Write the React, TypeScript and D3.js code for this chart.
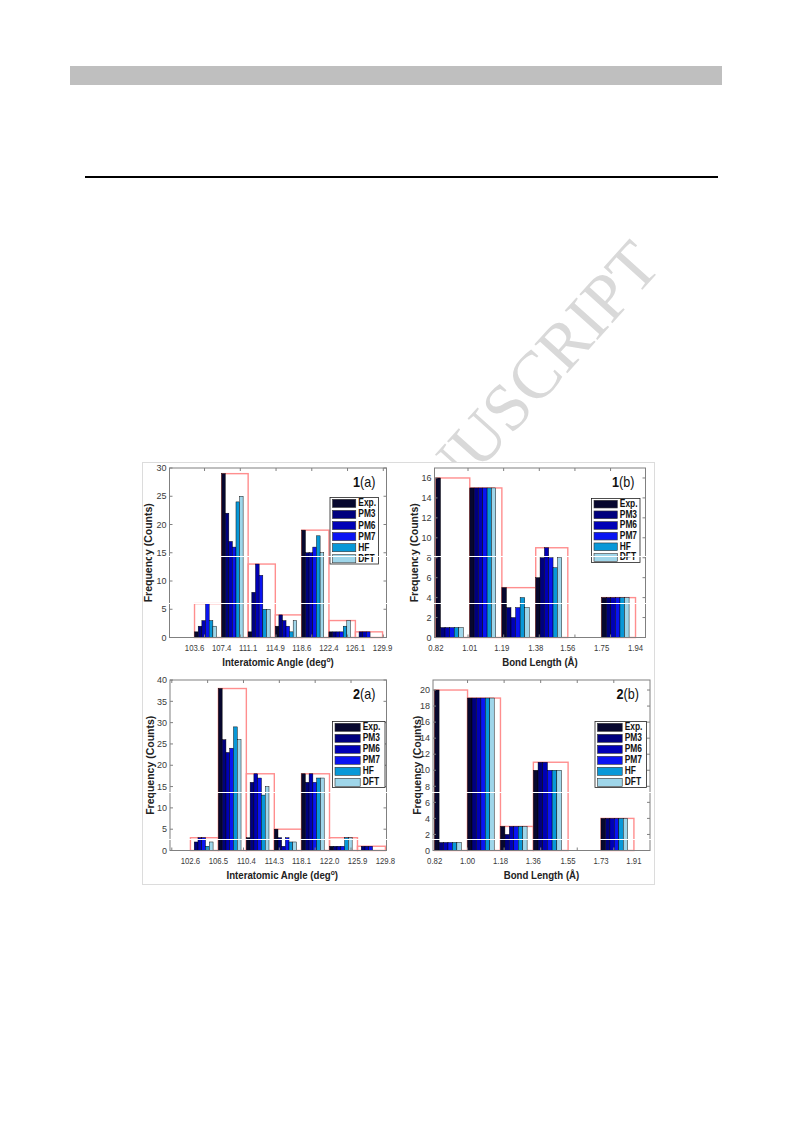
import React from 'react';
import * as d3 from 'd3';

// ---------------- data ----------------
const methods = ['Exp.', 'PM3', 'PM6', 'PM7', 'HF', 'DFT'];
const methodColors = ['#07072e', '#00007e', '#0000b6', '#0a14f2', '#0898d8', '#9fd6ea'];

// bin edges (tick labels) and counts per bin: [Exp, PM3, PM6, PM7, HF, DFT]
const edges1a = [103.6, 107.4, 111.1, 114.9, 118.6, 122.4, 126.1, 129.9];
const counts1a = [
  [1, 2, 3, 6, 3, 2],
  [29, 22, 17, 16, 24, 25],
  [1, 8, 13, 11, 5, 5],
  [2, 4, 3, 2, 1, 3],
  [19, 15, 15, 16, 18, 15],
  [1, 1, 1, 1, 2, 3],
  [0, 1, 1, 1, 0, 0],
];

const edges1b = [0.82, 1.01, 1.19, 1.38, 1.56, 1.75, 1.94];
const counts1b = [
  [16, 1, 1, 1, 1, 1],
  [15, 15, 15, 15, 15, 15],
  [5, 3, 2, 3, 4, 3],
  [6, 8, 9, 8, 7, 8],
  [0, 0, 0, 0, 0, 0],
  [4, 4, 4, 4, 4, 4],
];

const edges2a = [102.6, 106.5, 110.4, 114.3, 118.1, 122.0, 125.9, 129.8];
const counts2a = [
  [0, 2, 3, 3, 1, 2],
  [38, 26, 23, 24, 29, 26],
  [3, 16, 18, 17, 13, 15],
  [5, 3, 1, 3, 2, 2],
  [18, 16, 18, 16, 17, 17],
  [1, 1, 1, 1, 3, 3],
  [0, 1, 1, 1, 0, 0],
];

const edges2b = [0.82, 1.0, 1.18, 1.36, 1.55, 1.73, 1.91];
const counts2b = [
  [20, 1, 1, 1, 1, 1],
  [19, 19, 19, 19, 19, 19],
  [3, 2, 3, 3, 3, 3],
  [10, 11, 11, 10, 10, 10],
  [0, 0, 0, 0, 0, 0],
  [4, 4, 4, 4, 4, 4],
];

const angleLabel = 'Interatomic Angle (deg';
const bondLabel = 'Bond Length (Å)';
const yLabel = 'Frequency (Counts)';
const watermark = 'ACCEPTED MANUSCRIPT';

// ---------------- layout ----------------
const FONT = "'Liberation Sans', Arial, Helvetica, sans-serif";

type PanelSpec = {
  num: string;
  letter: string;
  edges: number[];
  counts: number[][];
  labelFormat: string;
  xDomain: [number, number];
  autoStep: number;
  yMax: number;
  yStep: number;
  x0: number; x1: number; y0: number; y1: number;
  xLabelKind: 'angle' | 'bond';
  xLabelDx: number;
  yLabelX: number;
  legend: { x: number; y: number; w: number; h: number };
};

const panels: PanelSpec[] = [
  {
    num: '1', letter: '(a)', edges: edges1a, counts: counts1a, labelFormat: '.1f',
    xDomain: [100.1, 130.45], autoStep: 5, yMax: 30, yStep: 5,
    x0: 169.5, x1: 386.5, y0: 468, y1: 637.5, xLabelKind: 'angle', xLabelDx: 0, yLabelX: 148,
    legend: { x: 330, y: 497.5, w: 48.5, h: 66.5 },
  },
  {
    num: '1', letter: '(b)', edges: edges1b, counts: counts1b, labelFormat: '.2f',
    xDomain: [0.812, 1.996], autoStep: 0.2, yMax: 17, yStep: 2,
    x0: 434.5, x1: 645.5, y0: 468, y1: 637.5, xLabelKind: 'bond', xLabelDx: 0, yLabelX: 414,
    legend: { x: 591.5, y: 498.5, w: 48.5, h: 64 },
  },
  {
    num: '2', letter: '(a)', edges: edges2a, counts: counts2a, labelFormat: '.1f',
    xDomain: [99.75, 129.95], autoStep: 5, yMax: 40, yStep: 5,
    x0: 170, x1: 386.5, y0: 680, y1: 850.5, xLabelKind: 'angle', xLabelDx: 4, yLabelX: 150,
    legend: { x: 332.5, y: 721.5, w: 52.5, h: 66 },
  },
  {
    num: '2', letter: '(b)', edges: edges2b, counts: counts2b, labelFormat: '.2f',
    xDomain: [0.811, 1.998], autoStep: 0.2, yMax: 21.25, yStep: 2,
    x0: 433, x1: 650, y0: 680, y1: 850.5, xLabelKind: 'bond', xLabelDx: 0, yLabelX: 417,
    legend: { x: 595, y: 721.5, w: 51.5, h: 66 },
  },
];

const artifactLines = [556.5, 603.5, 792.5, 839.5];

function SqText({ x, y, sx, children, anchor = 'middle', ...rest }: any) {
  return (
    <text transform={`translate(${x},${y}) scale(${sx},1)`} textAnchor={anchor} fontFamily={FONT} {...rest}>
      {children}
    </text>
  );
}

function Panel({ p }: { p: PanelSpec }) {
  const x = d3.scaleLinear().domain(p.xDomain).range([p.x0, p.x1]);
  const y = d3.scaleLinear().domain([0, p.yMax]).range([p.y1, p.y0]);
  const fmt = d3.format(p.labelFormat);
  const yTicks = d3.range(0, p.yMax + 1e-9, p.yStep);
  const autoTicks = d3
    .range(Math.ceil(p.xDomain[0] / p.autoStep), Math.floor(p.xDomain[1] / p.autoStep) + 1)
    .map((k) => k * p.autoStep)
    .filter((v) => x(v) > p.x0 + 1 && x(v) < p.x1 - 1);
  const groupFrac = 0.81;
  const axisColor = '#808080';
  const tickLen = 3;

  return (
    <g>
      {/* envelope (max of all methods per bin) */}
      {p.counts.map((row, i) => {
        const m = d3.max(row) as number;
        if (!m) return null;
        const l = x(p.edges[i]);
        const r = x(p.edges[i + 1]);
        return (
          <rect key={`env${i}`} x={l} y={y(m)} width={r - l} height={y(0) - y(m)} fill="none" stroke="#ff8e8e" strokeWidth={1.4} />
        );
      })}
      {/* bars */}
      {p.counts.map((row, i) => {
        const l = x(p.edges[i]);
        const r = x(p.edges[i + 1]);
        const bw = ((r - l) * groupFrac) / methods.length;
        return row.map((v, j) =>
          v > 0 ? (
            <rect key={`b${i}-${j}`} x={l + j * bw} y={y(v)} width={bw} height={y(0) - y(v)} fill={methodColors[j]} stroke="#000" strokeWidth={0.45} />
          ) : null
        );
      })}
      {/* axes box */}
      <rect x={p.x0} y={p.y0} width={p.x1 - p.x0} height={p.y1 - p.y0} fill="none" stroke={axisColor} strokeWidth={1} />
      {yTicks.map((t) => (
        <g key={`yt${t}`}>
          <line x1={p.x0} x2={p.x0 + tickLen} y1={y(t)} y2={y(t)} stroke={axisColor} />
          <line x1={p.x1} x2={p.x1 - tickLen} y1={y(t)} y2={y(t)} stroke={axisColor} />
          <text x={p.x0 - 3} y={y(t) + 3.2} textAnchor="end" fontFamily={FONT} fontSize={9} fill="#3a3a3a">
            {d3.format('d')(t)}
          </text>
        </g>
      ))}
      {autoTicks.map((t) => (
        <g key={`xt${t}`}>
          <line x1={x(t)} x2={x(t)} y1={p.y0} y2={p.y0 + tickLen} stroke={axisColor} />
          <line x1={x(t)} x2={x(t)} y1={p.y1} y2={p.y1 - tickLen} stroke={axisColor} />
        </g>
      ))}
      {p.edges.map((e) => (
        <SqText key={`xl${e}`} x={x(e)} y={p.y1 + 13} sx={0.82} fontSize={9.5} fill="#3a3a3a">
          {fmt(e)}
        </SqText>
      ))}
      {/* legend */}
      <rect x={p.legend.x} y={p.legend.y} width={p.legend.w} height={p.legend.h} fill="#fff" stroke="#222" strokeWidth={0.8} />
      {methods.map((m, j) => {
        const rh = p.legend.h / methods.length;
        const sy = p.legend.y + j * rh;
        const sw = p.legend.w * 0.48;
        return (
          <g key={`lg${m}`}>
            <rect x={p.legend.x + 2.5} y={sy + 1.8} width={sw} height={rh - 3} fill={methodColors[j]} stroke="#333" strokeWidth={0.6} />
            <SqText x={p.legend.x + sw + 5} y={sy + rh - 2.2} sx={0.8} anchor="start" fontSize={10.5} fontWeight="bold" fill="#111">
              {m}
            </SqText>
          </g>
        );
      })}
      {/* panel tag */}
      <SqText x={p.x1 - 11} y={p.y0 + 18.5} sx={0.9} anchor="end" fontSize={14} fill="#111">
        <tspan fontWeight="bold">{p.num}</tspan>
        <tspan>{p.letter}</tspan>
      </SqText>
      {/* axis labels */}
      <SqText x={(p.x0 + p.x1) / 2 + p.xLabelDx} y={p.y1 + 28} sx={0.84} fontSize={11.5} fontWeight="bold" fill="#222">
        {p.xLabelKind === 'angle' ? (
          <>
            {angleLabel}
            <tspan fontSize={8} dy={-4}>o</tspan>
            <tspan dy={4}>)</tspan>
          </>
        ) : (
          bondLabel
        )}
      </SqText>
      <text
        transform={`translate(${p.yLabelX + 4},${(p.y0 + p.y1) / 2}) rotate(-90)`}
        textAnchor="middle"
        fontFamily={FONT}
        fontSize={10.5}
        fontWeight="bold"
        fill="#222"
      >
        {yLabel}
      </text>
    </g>
  );
}

export default function App() {
  return (
    <svg width={793} height={1123} style={{ position: 'absolute', left: 0, top: 0, background: '#fff' }}>
      <defs>
        <clipPath id="wmClip">
          <rect x={143} y={0} width={650} height={1123} />
        </clipPath>
      </defs>
      <rect x={0} y={0} width={793} height={1123} fill="#fff" />
      {/* header elements */}
      <rect x={70} y={66} width={652} height={19} fill="#bfbfbf" />
      <rect x={85} y={176} width={633} height={2} fill="#000" />
      {/* watermark (mostly hidden behind the figure) */}
      <g clipPath="url(#wmClip)">
        <text
          transform="translate(663,267) rotate(-48)"
          textAnchor="end"
          fontFamily="'Liberation Serif', 'Times New Roman', serif"
          fontSize={67}
          fill="#d9d9d9"
        >
          {watermark}
        </text>
      </g>
      {/* figure */}
      <rect x={142.5} y={462.5} width={512} height={422} fill="#fff" stroke="#dcdcdc" strokeWidth={1} />
      {panels.map((p, i) => (
        <Panel key={i} p={p} />
      ))}
      {artifactLines.map((ly) => (
        <line key={ly} x1={143} x2={654} y1={ly} y2={ly} stroke="#fff" strokeWidth={1.2} />
      ))}
    </svg>
  );
}
